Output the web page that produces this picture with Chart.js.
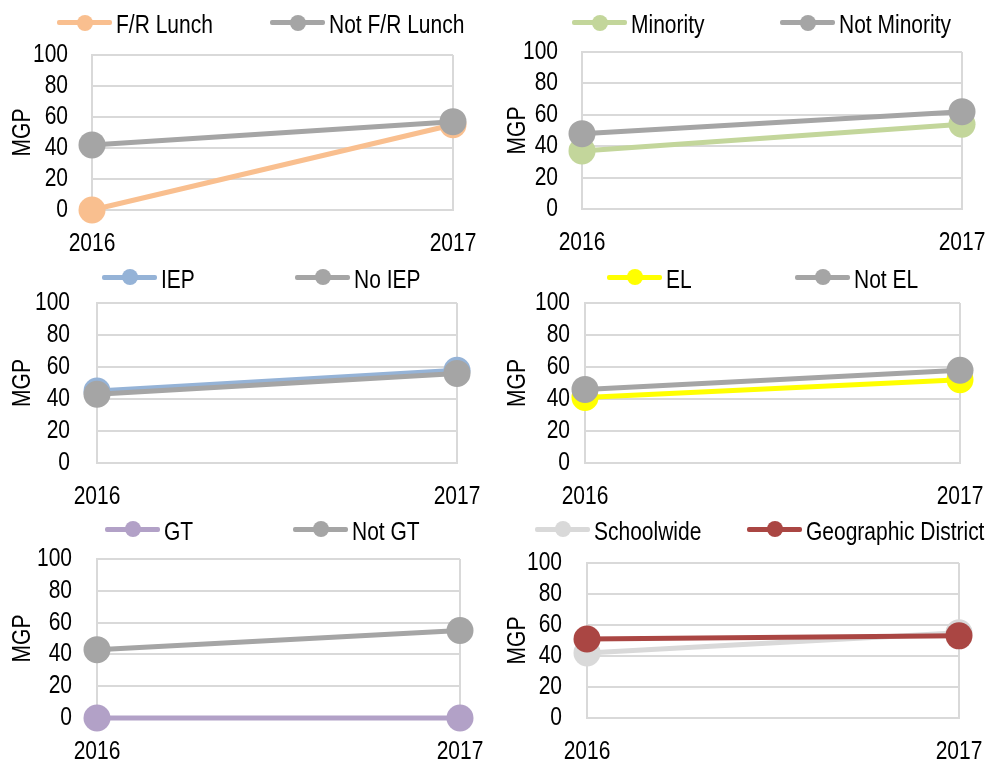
<!DOCTYPE html>
<html>
<head>
<meta charset="utf-8">
<script src="https://cdn.jsdelivr.net/npm/chart.js@4.4.1/dist/chart.umd.min.js"></script>
<style>
  html, body { margin: 0; padding: 0; background: #fff; }
  #wrap { position: relative; width: 1005px; height: 763px; overflow: hidden;
          font-family: 'Liberation Sans', Arial, sans-serif; }
  #wrap canvas { position: absolute; }
  .lg { position: absolute; height: 31px; white-space: nowrap; }
  .lg .ln { position: absolute; left: 0; top: 13px; width: 55px; height: 5px; border-radius: 2px; }
  .lg .dot { position: absolute; left: 19.5px; top: 7.5px; width: 16px; height: 16px; border-radius: 50%; }
  /* the original uses a narrow face; Arial metrics squeezed to 82% give the same shapes */
  .lg .tx { position: absolute; left: 59px; top: 2px; font-size: 25.6px; line-height: 30px; color: #000;
            display: inline-block; transform: scaleX(0.82); transform-origin: 0 50%; }
</style>
</head>
<body>
<div id="wrap"></div>
<script>
// MGP by student group, 2016 vs 2017
const years = ['2016', '2017'];

const frLunch = [0, 55];
const notFrLunch = [42, 57];
const minority = [37, 54];
const notMinority = [48, 62];
const iep = [45, 58];
const noIep = [43, 56];
const el = [41, 52];
const notEl = [46, 58];
const gt = [0, 0];
const notGt = [43, 55];
const schoolwide = [42, 55];
const geoDistrict = [51, 53];

const yMin = 0, yMax = 100, yStep = 20;

const GRID = '#D9D9D9';
const GREY = '#A5A5A5';
const NARROW = 0.82;
const FONT = { family: "'Liberation Sans', Arial, sans-serif", size: 25.6 };

// box = canvas placement, plot = wanted plot area, legend = line start x of each item + centre y
const panels = [
  { names: ['F/R Lunch', 'Not F/R Lunch'], series: [frLunch, notFrLunch], colors: ['#F9BF8F', GREY],
    box: { x: 0, y: 35, w: 500, h: 225 }, plot: { l: 92, r: 453, t: 55, b: 210 }, tickPad: 24, titleX: 23,
    legend: { xs: [57, 270], y: 22.5 } },
  { names: ['Minority', 'Not Minority'], series: [minority, notMinority], colors: ['#C3D69B', GREY],
    box: { x: 500, y: 35, w: 505, h: 225 }, plot: { l: 582, r: 962, t: 52, b: 209 }, tickPad: 24, titleX: 17.5,
    legend: { xs: [572, 780], y: 22.5 } },
  { names: ['IEP', 'No IEP'], series: [iep, noIep], colors: ['#95B3D7', GREY],
    box: { x: 0, y: 285, w: 500, h: 228 }, plot: { l: 97, r: 457, t: 303, b: 463 }, tickPad: 27, titleX: 22.5,
    legend: { xs: [102, 295], y: 277.3 } },
  { names: ['EL', 'Not EL'], series: [el, notEl], colors: ['#FFFF00', GREY],
    box: { x: 500, y: 285, w: 505, h: 228 }, plot: { l: 585, r: 960, t: 303, b: 463 }, tickPad: 15, titleX: 17.5,
    legend: { xs: [607, 795], y: 277.3 } },
  { names: ['GT', 'Not GT'], series: [gt, notGt], colors: ['#B2A1C7', GREY],
    box: { x: 0, y: 540, w: 500, h: 223 }, plot: { l: 97, r: 460, t: 559, b: 718 }, tickPad: 25, titleX: 22.5,
    legend: { xs: [105, 293], y: 529 } },
  { names: ['Schoolwide', 'Geographic District'], series: [schoolwide, geoDistrict], colors: ['#D9D9D9', '#AA4643'],
    box: { x: 500, y: 540, w: 505, h: 223 }, plot: { l: 587, r: 959, t: 563, b: 718 }, tickPad: 25, titleX: 17.5,
    legend: { xs: [535, 747], y: 529 } },
];

const wrap = document.getElementById('wrap');

// squeeze every label horizontally around its anchor point
function narrowText(ctx, k) {
  const fill = ctx.fillText;
  ctx.fillText = function (text, x, y, maxWidth) {
    this.save();
    this.translate(x, y);
    this.scale(k, 1);
    if (maxWidth === undefined) fill.call(this, text, 0, 0);
    else fill.call(this, text, 0, 0, maxWidth / k);
    this.restore();
  };
}

function buildLegend(p) {
  p.names.forEach((name, i) => {
    const item = document.createElement('div');
    item.className = 'lg';
    item.style.left = p.legend.xs[i] + 'px';
    item.style.top = (p.legend.y - 15.5) + 'px';
    item.innerHTML = `<span class="ln" style="background:${p.colors[i]}"></span>` +
      `<span class="dot" style="background:${p.colors[i]}"></span><span class="tx">${name}</span>`;
    wrap.appendChild(item);
  });
}

function buildPanel(p) {
  const cv = document.createElement('canvas');
  cv.width = p.box.w;
  cv.height = p.box.h;
  cv.style.left = p.box.x + 'px';
  cv.style.top = p.box.y + 'px';
  wrap.appendChild(cv);
  const ctx = cv.getContext('2d');
  narrowText(ctx, NARROW);

  new Chart(ctx, {
    type: 'line',
    data: {
      labels: years,
      datasets: p.series.map((s, i) => ({
        label: p.names[i],
        data: s,
        borderColor: p.colors[i],
        backgroundColor: p.colors[i],
        borderWidth: 5,
        pointRadius: 13.5,
        pointHoverRadius: 13.5,
        pointBorderWidth: 0,
        tension: 0,
        clip: false,
        order: p.series.length - 1 - i, // later series sits on top, as in the original
      })),
    },
    options: {
      responsive: false,
      animation: false,
      devicePixelRatio: 1,
      events: [],
      layout: { padding: { top: p.plot.t - p.box.y, right: p.box.x + p.box.w - p.plot.r, left: 0, bottom: 0 } },
      plugins: { legend: { display: false }, tooltip: { enabled: false } },
      scales: {
        x: {
          offset: false,
          grid: { color: GRID, lineWidth: 2, drawTicks: false },
          border: { color: GRID, width: 2 },
          ticks: { color: '#000', font: FONT, padding: 19, maxRotation: 0, autoSkip: false },
          afterFit: (s) => { s.height = p.box.y + p.box.h - p.plot.b; s.paddingLeft = 0; s.paddingRight = 0; },
        },
        y: {
          min: yMin,
          max: yMax,
          grid: { color: GRID, lineWidth: 2, drawTicks: false },
          border: { color: GRID, width: 2 },
          ticks: { stepSize: yStep, color: '#000', font: FONT, padding: p.tickPad, autoSkip: false },
          title: { display: true, text: 'MGP', color: '#000', font: FONT, padding: { top: p.titleX - 15.4, bottom: 0 } },
          afterFit: (s) => { s.width = p.plot.l - p.box.x; s.paddingTop = 0; s.paddingBottom = 0; },
        },
      },
    },
  });
}

panels.forEach((p) => { buildPanel(p); buildLegend(p); });
</script>
</body>
</html>
